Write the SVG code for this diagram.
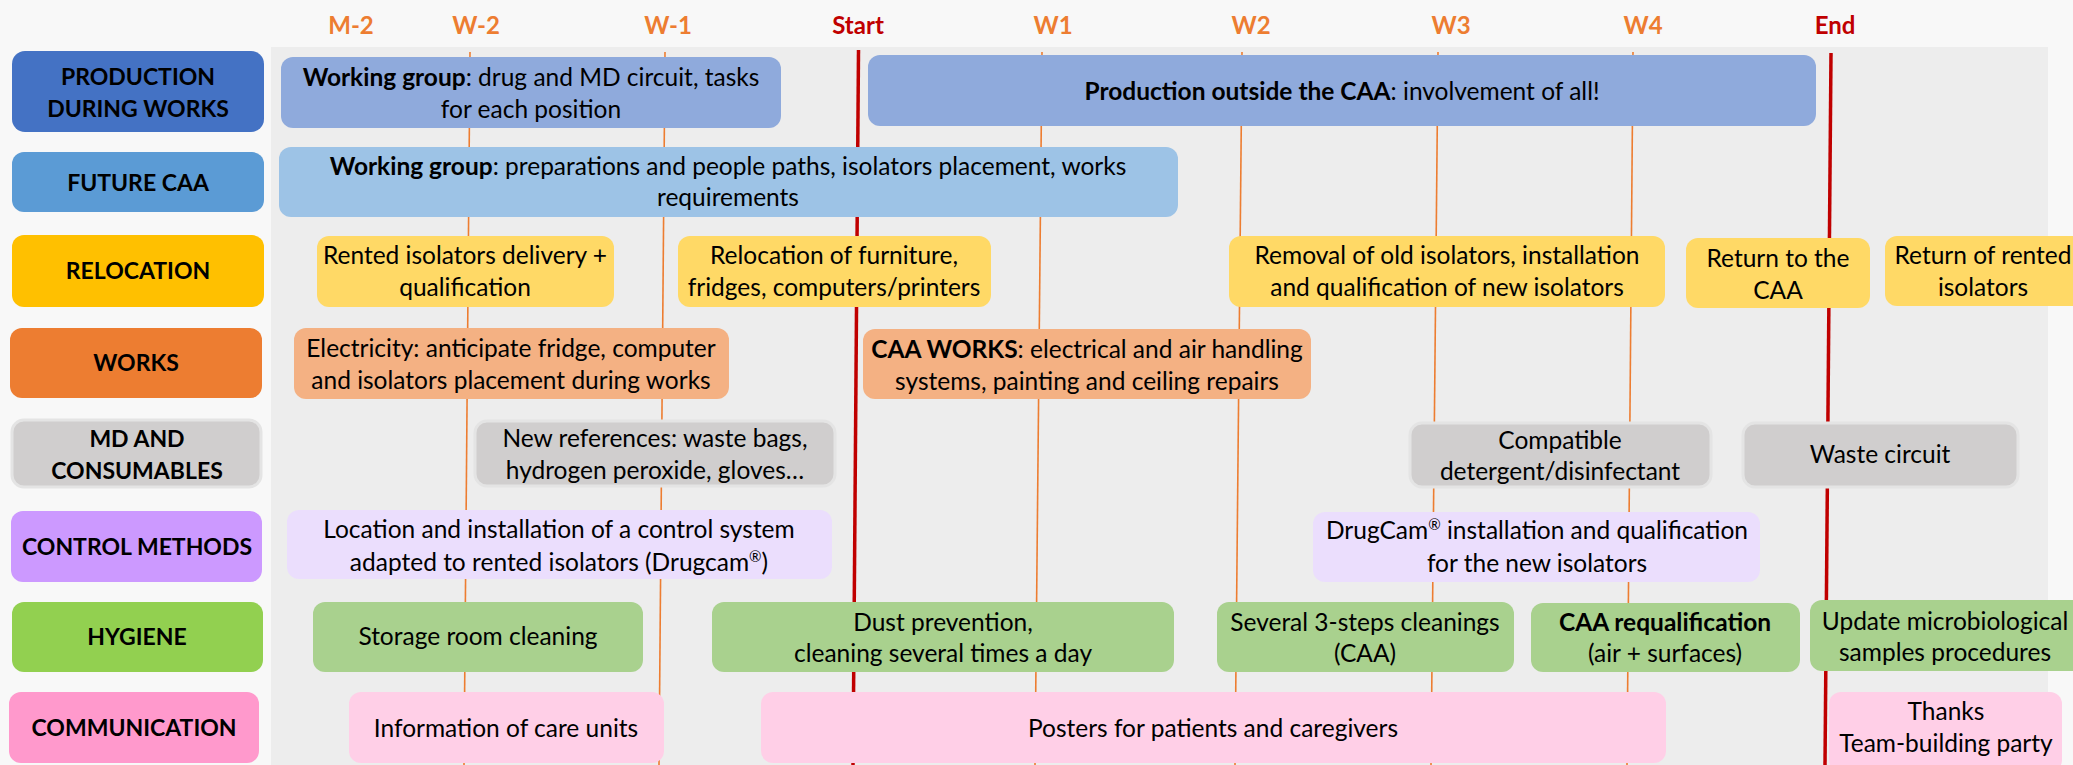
<svg xmlns="http://www.w3.org/2000/svg" width="2073" height="765" viewBox="0 0 2073 765">
<style>
.cat{font-family:Lato,"Liberation Sans",sans-serif;font-weight:bold;font-size:23px;fill:#000;text-anchor:middle}
.ev{font-family:Lato,"Liberation Sans",sans-serif;font-size:24.5px;fill:#000;text-anchor:middle}
.hdr{font-family:Lato,"Liberation Sans",sans-serif;font-weight:bold;font-size:24px;text-anchor:middle}
.o{fill:#ed7d31}.r{fill:#c00000}
.wk{stroke:#ed7d31;stroke-width:1.6;fill:none}
.lim{stroke:#c00000;stroke-width:3.5;fill:none}
.b{font-weight:bold}
.c1{fill:#4472c4}.c2{fill:#5b9bd5}.c3{fill:#ffc000}.c4{fill:#ed7d31}.c5{fill:#d0cece;stroke:#e4e4e4;stroke-width:3}.c6{fill:#cc99ff}.c7{fill:#92d050}.c8{fill:#ff99cc}
.e1{fill:#8faadc}.e2{fill:#9dc3e6}.e3{fill:#ffd966}.e4{fill:#f4b183}.e5{fill:#d0cece;stroke:#e4e4e4;stroke-width:3}.e6{fill:#ebdefd}.e7{fill:#a9d18e}.e8{fill:#ffcfe7}
</style>
<rect x="0" y="0" width="2073" height="765" fill="#f8f8f8"/>
<rect x="271" y="47" width="1777" height="718" fill="#ededed"/>

<g id="headers">
<text class="hdr o" x="351" y="34">M-2</text>
<text class="hdr o" x="476" y="34">W-2</text>
<text class="hdr o" x="668" y="34">W-1</text>
<text class="hdr r" x="858" y="34">Start</text>
<text class="hdr o" x="1053" y="34">W1</text>
<text class="hdr o" x="1251" y="34">W2</text>
<text class="hdr o" x="1451" y="34">W3</text>
<text class="hdr o" x="1643" y="34">W4</text>
<text class="hdr r" x="1835" y="34">End</text>
</g>

<g id="connectors">
<line class="wk" x1="470" y1="52" x2="464" y2="765"/>
<line class="wk" x1="665" y1="52" x2="659" y2="765"/>
<line class="wk" x1="1042" y1="52" x2="1035" y2="765"/>
<line class="wk" x1="1242" y1="52" x2="1235" y2="765"/>
<line class="wk" x1="1438" y1="52" x2="1431" y2="765"/>
<line class="wk" x1="1633" y1="52" x2="1627" y2="765"/>
<line class="lim" x1="858.5" y1="50" x2="853" y2="765"/>
<line class="lim" x1="1831" y1="53" x2="1825" y2="765"/>
</g>

<g id="cat-production"><rect class="c1" x="12" y="51" width="252" height="81" rx="13"/><text class="cat" x="138"><tspan x="138" y="85">PRODUCTION</tspan><tspan x="138" y="117">DURING WORKS</tspan></text></g>
<g id="cat-future"><rect class="c2" x="12" y="152" width="252" height="60" rx="12"/><text class="cat" x="138" y="191">FUTURE CAA</text></g>
<g id="cat-relocation"><rect class="c3" x="12" y="235" width="252" height="72" rx="12"/><text class="cat" x="138" y="279">RELOCATION</text></g>
<g id="cat-works"><rect class="c4" x="10" y="328" width="252" height="70" rx="12"/><text class="cat" x="136" y="371">WORKS</text></g>
<g id="cat-md"><rect class="c5" x="12" y="420" width="249" height="67" rx="12"/><text class="cat" x="137"><tspan x="137" y="447">MD AND</tspan><tspan x="137" y="479">CONSUMABLES</tspan></text></g>
<g id="cat-control"><rect class="c6" x="11" y="511" width="251" height="71" rx="12"/><text class="cat" x="137" y="555">CONTROL METHODS</text></g>
<g id="cat-hygiene"><rect class="c7" x="12" y="602" width="251" height="70" rx="12"/><text class="cat" x="137" y="645">HYGIENE</text></g>
<g id="cat-communication"><rect class="c8" x="9" y="692" width="250" height="71" rx="12"/><text class="cat" x="134" y="736">COMMUNICATION</text></g>

<g id="ev-prod-wg"><rect class="e1" x="281" y="57" width="500" height="71" rx="12"/><text class="ev"><tspan x="531" y="86"><tspan class="b">Working group</tspan>: drug and MD circuit, tasks</tspan><tspan x="531" y="118">for each position</tspan></text></g>
<g id="ev-prod-outside"><rect class="e1" x="868" y="55" width="948" height="71" rx="12"/><text class="ev" x="1342" y="100"><tspan class="b">Production outside the CAA</tspan>: involvement of all!</text></g>

<g id="ev-future-wg"><rect class="e2" x="279" y="147" width="899" height="70" rx="12"/><text class="ev"><tspan x="728" y="175"><tspan class="b">Working group</tspan>: preparations and people paths, isolators placement, works</tspan><tspan x="728" y="206">requirements</tspan></text></g>

<g id="ev-rel-rented"><rect class="e3" x="317" y="236" width="297" height="71" rx="12"/><text class="ev"><tspan x="465" y="264">Rented isolators delivery +</tspan><tspan x="465" y="296">qualification</tspan></text></g>
<g id="ev-rel-furniture"><rect class="e3" x="678" y="236" width="313" height="71" rx="12"/><text class="ev"><tspan x="834" y="264">Relocation of furniture,</tspan><tspan x="834" y="296">fridges, computers/printers</tspan></text></g>
<g id="ev-rel-removal"><rect class="e3" x="1229" y="236" width="436" height="71" rx="12"/><text class="ev"><tspan x="1447" y="264">Removal of old isolators, installation</tspan><tspan x="1447" y="296">and qualification of new isolators</tspan></text></g>
<g id="ev-rel-return"><rect class="e3" x="1686" y="238" width="184" height="70" rx="12"/><text class="ev"><tspan x="1778" y="267">Return to the</tspan><tspan x="1778" y="299">CAA</tspan></text></g>
<g id="ev-rel-rented-return"><rect class="e3" x="1885" y="236" width="200" height="70" rx="12"/><text class="ev"><tspan x="1983" y="264">Return of rented</tspan><tspan x="1983" y="296">isolators</tspan></text></g>

<g id="ev-works-elec"><rect class="e4" x="294" y="328" width="435" height="71" rx="12"/><text class="ev"><tspan x="511" y="357">Electricity: anticipate fridge, computer</tspan><tspan x="511" y="389">and isolators placement during works</tspan></text></g>
<g id="ev-works-caa"><rect class="e4" x="863" y="329" width="448" height="70" rx="12"/><text class="ev"><tspan x="1087" y="358"><tspan class="b">CAA WORKS</tspan>: electrical and air handling</tspan><tspan x="1087" y="390">systems, painting and ceiling repairs</tspan></text></g>

<g id="ev-md-refs"><rect class="e5" x="475" y="421" width="360" height="65" rx="12"/><text class="ev"><tspan x="655" y="447">New references: waste bags,</tspan><tspan x="655" y="479">hydrogen peroxide, gloves…</tspan></text></g>
<g id="ev-md-detergent"><rect class="e5" x="1410" y="423" width="301" height="64" rx="12"/><text class="ev"><tspan x="1560" y="449">Compatible</tspan><tspan x="1560" y="480">detergent/disinfectant</tspan></text></g>
<g id="ev-md-waste"><rect class="e5" x="1743" y="423" width="275" height="64" rx="12"/><text class="ev" x="1880" y="463">Waste circuit</text></g>

<g id="ev-ctrl-location"><rect class="e6" x="287" y="510" width="545" height="69" rx="12"/><text class="ev"><tspan x="559" y="538">Location and installation of a control system</tspan><tspan x="559" y="571">adapted to rented isolators (Drugcam<tspan font-size="15" dy="-9">®</tspan><tspan dy="9">)</tspan></tspan></text></g>
<g id="ev-ctrl-drugcam"><rect class="e6" x="1313" y="512" width="447" height="70" rx="12"/><text class="ev"><tspan x="1537" y="539">DrugCam<tspan font-size="15" dy="-9">®</tspan><tspan dy="9"> installation and qualification</tspan></tspan><tspan x="1537" y="572">for the new isolators</tspan></text></g>

<g id="ev-hyg-storage"><rect class="e7" x="313" y="602" width="330" height="70" rx="12"/><text class="ev" x="478" y="645">Storage room cleaning</text></g>
<g id="ev-hyg-dust"><rect class="e7" x="712" y="602" width="462" height="70" rx="12"/><text class="ev"><tspan x="943" y="631">Dust prevention,</tspan><tspan x="943" y="662">cleaning several times a day</tspan></text></g>
<g id="ev-hyg-cleanings"><rect class="e7" x="1217" y="602" width="297" height="70" rx="12"/><text class="ev"><tspan x="1365" y="631">Several 3-steps cleanings</tspan><tspan x="1365" y="662">(CAA)</tspan></text></g>
<g id="ev-hyg-requal"><rect class="e7" x="1531" y="603" width="269" height="69" rx="12"/><text class="ev"><tspan x="1665" y="631" class="b">CAA requalification</tspan><tspan x="1665" y="662">(air + surfaces)</tspan></text></g>
<g id="ev-hyg-update"><rect class="e7" x="1810" y="600" width="275" height="71" rx="12"/><text class="ev"><tspan x="1945" y="630">Update microbiological</tspan><tspan x="1945" y="661">samples procedures</tspan></text></g>

<g id="ev-com-info"><rect class="e8" x="349" y="692" width="315" height="71" rx="12"/><text class="ev" x="506" y="737">Information of care units</text></g>
<g id="ev-com-posters"><rect class="e8" x="761" y="692" width="905" height="71" rx="12"/><text class="ev" x="1213" y="737">Posters for patients and caregivers</text></g>
<g id="ev-com-thanks"><rect class="e8" x="1829" y="692" width="233" height="80" rx="12"/><text class="ev"><tspan x="1946" y="720">Thanks</tspan><tspan x="1946" y="752">Team-building party</tspan></text></g>
</svg>
